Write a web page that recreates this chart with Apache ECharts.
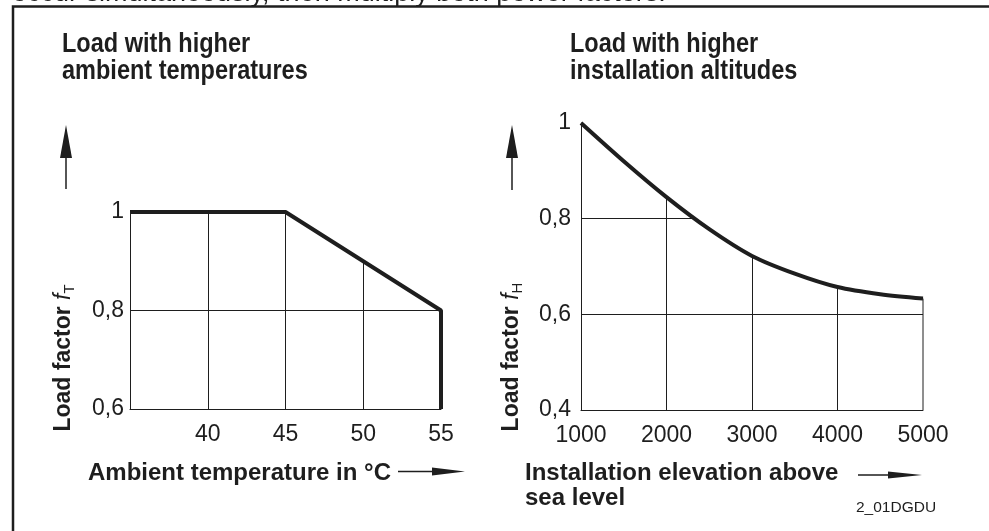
<!DOCTYPE html>
<html>
<head>
<meta charset="utf-8">
<script src="https://cdn.jsdelivr.net/npm/echarts@6/dist/echarts.min.js"></script>
<style>
html, body { margin: 0; padding: 0; background: #fff; }
#chart { width: 989px; height: 531px; }
</style>
</head>
<body>
<div id="chart"></div>
<script>
// left diagram: load factor vs ambient temperature
var tempX = [35, 45, 55, 55];
var tempY = [1.0, 1.0, 0.8, 0.6];
// right diagram: load factor vs installation altitude
var altX = [1000, 1500, 2000, 2500, 3000, 3500, 4000, 4500, 5000];
var altY = [1.0, 0.92, 0.845, 0.778, 0.722, 0.685, 0.657, 0.642, 0.633];
var altYMin = 0.4;

var ink = '#1e1e1e';
var titleFont = 'bold 28px Arial';

function pairs(xs, ys) {
	var out = [];
	for (var i = 0; i < xs.length; i++) out.push([xs[i], ys[i]]);
	return out;
}
function commaLabel(v) {
	if (Math.abs(v - 1) < 1e-9) return '1';
	return v.toFixed(1).replace('.', ',');
}

var axisLineStyle = { show: true, onZero: false, lineStyle: { color: ink, width: 1 } };
var gridLineStyle = { color: ink, width: 1 };
var labelStyle = { color: ink, fontSize: 23, fontFamily: 'Arial' };
var lastX = altX[altX.length - 1];
var lastY = altY[altY.length - 1];

var myChart = echarts.init(document.getElementById('chart'));
var option = {
	animation: false,
	backgroundColor: '#fff',
	grid: [
		{ left: 130, top: 212, width: 311, height: 197, outerBoundsMode: 'none' },
		{ left: 581, top: 123, width: 342, height: 287, outerBoundsMode: 'none' }
	],
	xAxis: [
		{
			gridIndex: 0, type: 'value', min: 35, max: 55, interval: 5,
			axisLine: axisLineStyle, axisTick: { show: false },
			axisLabel: Object.assign({ showMinLabel: false, margin: 14 }, labelStyle),
			splitLine: { show: true, showMinLine: false, showMaxLine: false, lineStyle: gridLineStyle }
		},
		{
			gridIndex: 1, type: 'value', min: 1000, max: 5000, interval: 1000,
			axisLine: axisLineStyle, axisTick: { show: false },
			axisLabel: Object.assign({ margin: 14, formatter: function (v) { return String(v); } }, labelStyle),
			splitLine: { show: true, showMinLine: false, showMaxLine: false, lineStyle: gridLineStyle }
		}
	],
	yAxis: [
		{
			gridIndex: 0, type: 'value', min: 0.6, max: 1.0, interval: 0.2,
			axisLine: axisLineStyle, axisTick: { show: false },
			axisLabel: Object.assign({ margin: 6, formatter: commaLabel }, labelStyle),
			splitLine: { show: true, showMinLine: false, showMaxLine: false, lineStyle: gridLineStyle }
		},
		{
			gridIndex: 1, type: 'value', min: altYMin, max: 1.0, interval: 0.2,
			axisLine: axisLineStyle, axisTick: { show: false },
			axisLabel: Object.assign({ margin: 10, formatter: commaLabel }, labelStyle),
			splitLine: { show: true, showMinLine: false, showMaxLine: false, lineStyle: gridLineStyle }
		}
	],
	series: [
		{
			type: 'line', xAxisIndex: 0, yAxisIndex: 0, silent: true, clip: false, z: 3,
			data: pairs(tempX, tempY), symbol: 'none',
			lineStyle: { color: ink, width: 4 },
			areaStyle: { color: '#fff', opacity: 1, origin: 'end' }   // hides grid above the curve
		},
		{
			// thin closing line at the right end of the altitude curve
			type: 'line', xAxisIndex: 1, yAxisIndex: 1, silent: true, z: 2,
			data: [[lastX, altYMin], [lastX, lastY]], symbol: 'none',
			lineStyle: { color: ink, width: 1 }
		},
		{
			type: 'line', xAxisIndex: 1, yAxisIndex: 1, silent: true, clip: false, z: 3,
			data: pairs(altX, altY), symbol: 'none', smooth: 0.3,
			lineStyle: { color: ink, width: 4 },
			areaStyle: { color: '#fff', opacity: 1, origin: 'end' }
		}
	],
	graphic: [
		// cut off line of body text and frame
		{ type: 'text', x: 12, y: -6, style: { text: 'occur simultaneously, then multiply both power factors.', font: '27px Arial', fill: ink, verticalAlign: 'middle' } },
		{ type: 'polyline', shape: { points: [[13, 531], [13, 6.5], [989, 6.5]] }, style: { stroke: ink, lineWidth: 2.5, fill: null } },
		// titles (condensed look)
		{ type: 'text', x: 62, y: 31, scaleX: 0.84, style: { text: 'Load with higher\nambient temperatures', font: titleFont, lineHeight: 27, fill: ink } },
		{ type: 'text', x: 570, y: 31, scaleX: 0.84, style: { text: 'Load with higher\ninstallation altitudes', font: titleFont, lineHeight: 27, fill: ink } },
		// y axis names
		{
			type: 'text', x: 64, y: 358, rotation: Math.PI / 2,
			style: {
				text: '{b|Load factor }{i|f}{s|T}', align: 'center', verticalAlign: 'middle',
				rich: {
					b: { font: 'bold 23px Arial', fill: ink, lineHeight: 26 },
					i: { font: 'italic 23px Arial', fill: ink, lineHeight: 26 },
					s: { font: '15px Arial', fill: ink, verticalAlign: 'bottom' }
				}
			}
		},
		{
			type: 'text', x: 512, y: 357, rotation: Math.PI / 2,
			style: {
				text: '{b|Load factor }{i|f}{s|H}', align: 'center', verticalAlign: 'middle',
				rich: {
					b: { font: 'bold 23px Arial', fill: ink, lineHeight: 26 },
					i: { font: 'italic 23px Arial', fill: ink, lineHeight: 26 },
					s: { font: '15px Arial', fill: ink, verticalAlign: 'bottom' }
				}
			}
		},
		// y arrows
		{ type: 'line', shape: { x1: 66, y1: 156, x2: 66, y2: 189 }, style: { stroke: ink, lineWidth: 1.5 } },
		{ type: 'polygon', shape: { points: [[66, 125], [60, 158], [72, 158]] }, style: { fill: ink } },
		{ type: 'line', shape: { x1: 512, y1: 156, x2: 512, y2: 190 }, style: { stroke: ink, lineWidth: 1.5 } },
		{ type: 'polygon', shape: { points: [[512, 125], [506, 158], [518, 158]] }, style: { fill: ink } },
		// x axis names and arrows
		{ type: 'text', x: 88, y: 473, style: { text: 'Ambient temperature in \u00b0C', font: 'bold 24px Arial', fill: ink, verticalAlign: 'middle' } },
		{ type: 'line', shape: { x1: 398, y1: 471.5, x2: 434, y2: 471.5 }, style: { stroke: ink, lineWidth: 1.5 } },
		{ type: 'polygon', shape: { points: [[465, 471.5], [432, 467.5], [432, 475.5]] }, style: { fill: ink } },
		{ type: 'text', x: 525, y: 460.5, style: { text: 'Installation elevation above\nsea level', font: 'bold 24px Arial', lineHeight: 25, fill: ink } },
		{ type: 'line', shape: { x1: 858, y1: 475, x2: 890, y2: 475 }, style: { stroke: ink, lineWidth: 1.5 } },
		{ type: 'polygon', shape: { points: [[922, 475], [888, 471.5], [888, 478.5]] }, style: { fill: ink } },
		{ type: 'text', x: 856, y: 508, style: { text: '2_01DGDU', font: '15.5px Arial', fill: ink, verticalAlign: 'middle' } }
	]
};
myChart.setOption(option, true);
</script>
</body>
</html>
